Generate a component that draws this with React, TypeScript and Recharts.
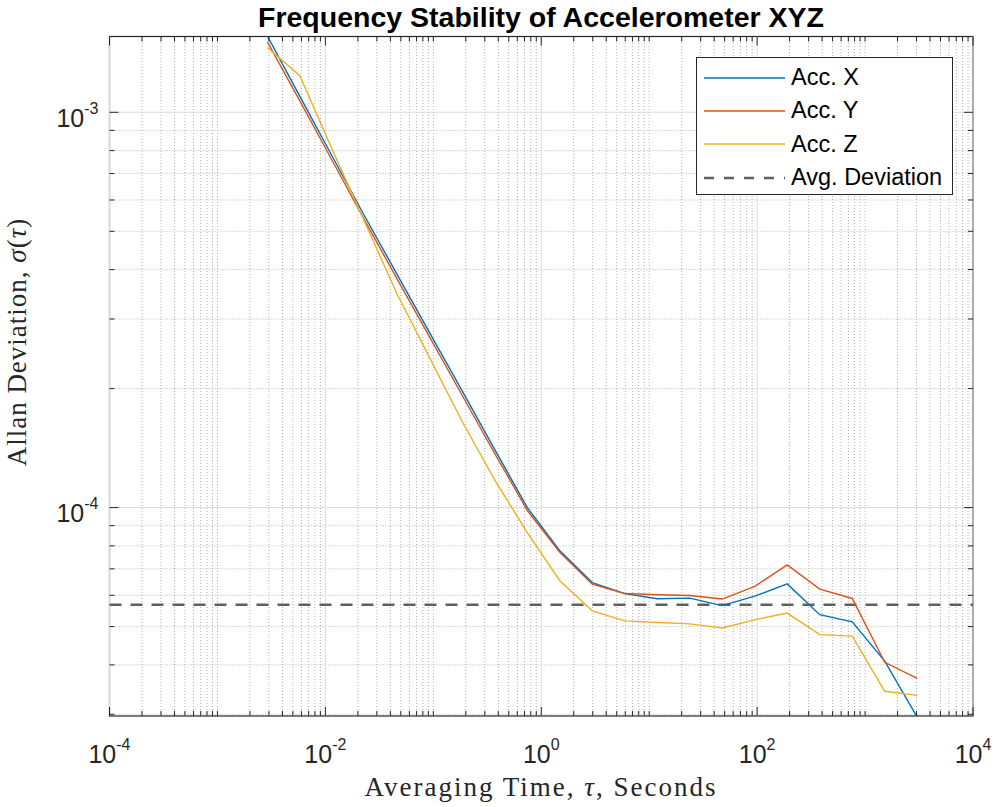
import React from "react";
import {
  LineChart,
  Line,
  XAxis,
  YAxis,
  ReferenceLine,
  Legend,
} from "recharts";

// averaging times (s), octave spaced
const TAU = [
  0.0029, 0.0058, 0.0116, 0.0232, 0.0464, 0.0928, 0.1856, 0.3712, 0.7424,
  1.485, 2.97, 5.94, 11.88, 23.76, 47.52, 95.04, 190.1, 380.2, 760.3, 1521,
  3041,
];

const ACC_X = [
  1.56e-3, 1.097e-3, 7.73e-4, 5.45e-4, 3.88e-4, 2.764e-4, 1.971e-4, 1.401e-4,
  1.0e-4, 7.78e-5, 6.46e-5, 6.06e-5, 5.88e-5, 5.9e-5, 5.65e-5, 5.97e-5,
  6.41e-5, 5.36e-5, 5.14e-5, 4.09e-5, 2.95e-5,
];
const ACC_Y = [
  1.507e-3, 1.069e-3, 7.54e-4, 5.32e-4, 3.78e-4, 2.694e-4, 1.921e-4, 1.37e-4,
  9.83e-5, 7.71e-5, 6.4e-5, 6.06e-5, 6.02e-5, 5.99e-5, 5.87e-5, 6.32e-5,
  7.16e-5, 6.22e-5, 5.89e-5, 4.06e-5, 3.7e-5,
];
const ACC_Z = [
  1.458e-3, 1.237e-3, 8.04e-4, 5.27e-4, 3.46e-4, 2.388e-4, 1.649e-4, 1.174e-4,
  8.64e-5, 6.53e-5, 5.48e-5, 5.17e-5, 5.12e-5, 5.08e-5, 4.96e-5, 5.2e-5,
  5.41e-5, 4.77e-5, 4.73e-5, 3.43e-5, 3.35e-5,
];
const AVG_DEV = 5.68e-5;

const X_MAJOR = [1e-4, 1e-2, 1, 1e2, 1e4];
const X_DECADES = [1e-4, 1e-3, 1e-2, 1e-1, 1, 1e1, 1e2, 1e3];
const Y_MAJOR = [1e-4, 1e-3];
const Y_DECADES = [1e-5, 1e-4];
const MANTISSA = [2, 3, 4, 5, 6, 7, 8, 9];

const X_DOMAIN = [1e-4, 1e4];
const Y_DOMAIN = [2.97e-5, 1.555e-3];

const SERIES = [
  { key: "x", name: "Acc. X", color: "#0072BD", values: ACC_X },
  { key: "y", name: "Acc. Y", color: "#D95319", values: ACC_Y },
  { key: "z", name: "Acc. Z", color: "#EDB120", values: ACC_Z },
];

const data = TAU.map((t, i) => ({
  tau: t,
  x: ACC_X[i],
  y: ACC_Y[i],
  z: ACC_Z[i],
}));

const inRange = (v: number, d: number[]) => v >= d[0] * 0.9999 && v <= d[1] * 1.0001;
const isMajor = (v: number, majors: number[]) =>
  majors.some((m) => Math.abs(v / m - 1) < 1e-6);

const xMinor = [
  ...X_DECADES.filter((d) => !isMajor(d, X_MAJOR)),
  ...X_DECADES.flatMap((d) => MANTISSA.map((m) => m * d)),
].filter((v) => inRange(v, X_DOMAIN));
const yMinor = Y_DECADES.flatMap((d) => MANTISSA.map((m) => m * d)).filter((v) =>
  inRange(v, Y_DOMAIN)
);
const xTicks = [...X_MAJOR, ...xMinor].sort((a, b) => a - b);
const yTicks = [...Y_MAJOR, ...yMinor].sort((a, b) => a - b);

const AX = "#262626";
const SANS = "'Liberation Sans', Arial, Helvetica, sans-serif";
const SERIF = "'Liberation Serif', 'Times New Roman', serif";

const exp = (v: number) => Math.round(Math.log10(v));

// plot box edges in page pixels
const LEFT = 109.5;
const TOP = 36.5;
const RIGHT = 973;
const BOTTOM = 716;

const XTick = (props: any) => {
  const { x, payload, top } = props;
  const v = payload.value;
  const major = isMajor(v, X_MAJOR);
  const len = major ? 9 : 5;
  const y = top ? TOP : BOTTOM;
  return (
    <g>
      <line x1={x} x2={x} y1={y} y2={top ? y + len : y - len} stroke={AX} />
      {!top && major && (
        <text x={x} y={y + 47} textAnchor="middle" fill={AX} fontFamily={SANS}>
          <tspan fontSize={25}>10</tspan>
          <tspan fontSize={16} dy={-13}>
            {exp(v)}
          </tspan>
        </text>
      )}
    </g>
  );
};

const YTick = (props: any) => {
  const { y, payload, right } = props;
  const v = payload.value;
  const major = isMajor(v, Y_MAJOR);
  const len = major ? 9 : 5;
  const x = right ? RIGHT : LEFT;
  return (
    <g>
      <line x1={x} x2={right ? x - len : x + len} y1={y} y2={y} stroke={AX} />
      {!right && major && (
        <text x={x - 11} y={y + 14.5} textAnchor="end" fill={AX} fontFamily={SANS}>
          <tspan fontSize={25}>10</tspan>
          <tspan fontSize={16} dy={-13}>
            {exp(v)}
          </tspan>
        </text>
      )}
    </g>
  );
};

const renderLegend = () => (
  <div
    style={{
      width: 257,
      height: 138,
      boxSizing: "border-box",
      border: `1.5px solid ${AX}`,
      background: "#fff",
      paddingTop: 3,
      fontFamily: SANS,
      fontSize: 23.5,
      color: "#000",
    }}
  >
    {[...SERIES.map((s) => ({ name: s.name, color: s.color, dash: false })),
      { name: "Avg. Deviation", color: "#606060", dash: true }].map((it) => (
      <div
        key={it.name}
        style={{ display: "flex", alignItems: "center", height: 33.3 }}
      >
        <svg width={94} height={20} style={{ flex: "none" }}>
          <line
            x1={7}
            x2={88}
            y1={10}
            y2={10}
            stroke={it.color}
            strokeWidth={it.dash ? 2.5 : 1.5}
            strokeDasharray={it.dash ? "10 10" : undefined}
          />
        </svg>
        <span style={{ whiteSpace: "nowrap" }}>{it.name}</span>
      </div>
    ))}
  </div>
);

export default function App() {
  return (
    <div style={{ position: "absolute", left: 0, top: 0, background: "#fff" }}>
      <LineChart
        width={996}
        height={807}
        data={data}
        margin={{ top: TOP - 1, right: 996 - RIGHT - 1, bottom: 807 - BOTTOM - 1, left: LEFT - 1 }}
      >
        {xMinor.map((v) => (
          <ReferenceLine
            key={`xm${v}`}
            x={v}
            xAxisId="b"
            yAxisId="l"
            stroke="#b0b0b0"
            strokeDasharray="1 2"
          />
        ))}
        {yMinor.map((v) => (
          <ReferenceLine
            key={`ym${v}`}
            y={v}
            xAxisId="b"
            yAxisId="l"
            stroke="#b0b0b0"
            strokeDasharray="1 2"
          />
        ))}
        {X_MAJOR.map((v) => (
          <ReferenceLine key={`xM${v}`} x={v} xAxisId="b" yAxisId="l" stroke="#dcdcdc" />
        ))}
        {Y_MAJOR.map((v) => (
          <ReferenceLine key={`yM${v}`} y={v} xAxisId="b" yAxisId="l" stroke="#dcdcdc" />
        ))}

        <XAxis
          xAxisId="b"
          dataKey="tau"
          type="number"
          scale="log"
          domain={X_DOMAIN}
          allowDataOverflow
          ticks={xTicks}
          interval={0}
          height={1}
          tickSize={0}
          tickMargin={0}
          tickLine={false}
          axisLine={false}
          tick={<XTick />}
        />
        <XAxis
          xAxisId="t"
          orientation="top"
          dataKey="tau"
          type="number"
          scale="log"
          domain={X_DOMAIN}
          allowDataOverflow
          ticks={xTicks}
          interval={0}
          height={1}
          tickSize={0}
          tickMargin={0}
          tickLine={false}
          axisLine={false}
          tick={<XTick top />}
        />
        <YAxis
          yAxisId="l"
          type="number"
          scale="log"
          domain={Y_DOMAIN}
          allowDataOverflow
          ticks={yTicks}
          interval={0}
          width={1}
          tickSize={0}
          tickMargin={0}
          tickLine={false}
          axisLine={false}
          tick={<YTick />}
        />
        <YAxis
          yAxisId="r"
          orientation="right"
          type="number"
          scale="log"
          domain={Y_DOMAIN}
          allowDataOverflow
          ticks={yTicks}
          interval={0}
          width={1}
          tickSize={0}
          tickMargin={0}
          tickLine={false}
          axisLine={false}
          tick={<YTick right />}
        />

        <ReferenceLine
          y={AVG_DEV}
          xAxisId="b"
          yAxisId="l"
          stroke="#606060"
          strokeWidth={2.5}
          strokeDasharray="12 9"
        />

        {SERIES.map((s) => (
          <Line
            key={s.key}
            xAxisId="b"
            yAxisId="l"
            type="linear"
            dataKey={s.key}
            name={s.name}
            stroke={s.color}
            strokeWidth={1.4}
            dot={false}
            activeDot={false}
            isAnimationActive={false}
          />
        ))}

        <rect
          x={LEFT}
          y={TOP}
          width={RIGHT - LEFT}
          height={BOTTOM - TOP}
          fill="none"
          stroke={AX}
          strokeWidth={1.2}
        />

        <Legend
          layout="vertical"
          align="center"
          verticalAlign="middle"
          content={renderLegend}
          wrapperStyle={{ left: 696, top: 57, width: 257, height: 138 }}
        />

        <text
          x={541}
          y={27}
          textAnchor="middle"
          fontFamily={SANS}
          fontWeight="bold"
          fontSize={28.5}
          fill="#000"
        >
          Frequency Stability of Accelerometer XYZ
        </text>
        <text
          x={541}
          y={796}
          textAnchor="middle"
          fontFamily={SERIF}
          fontSize={27}
          letterSpacing={2}
          fill={AX}
        >
          Averaging Time, <tspan fontStyle="italic">τ</tspan>, Seconds
        </text>
        <text
          x={26}
          y={342}
          textAnchor="middle"
          transform="rotate(-90 26 342)"
          fontFamily={SERIF}
          fontSize={27}
          letterSpacing={1}
          fill={AX}
        >
          Allan Deviation, <tspan fontStyle="italic">σ</tspan>(
          <tspan fontStyle="italic">τ</tspan>)
        </text>
      </LineChart>
    </div>
  );
}
